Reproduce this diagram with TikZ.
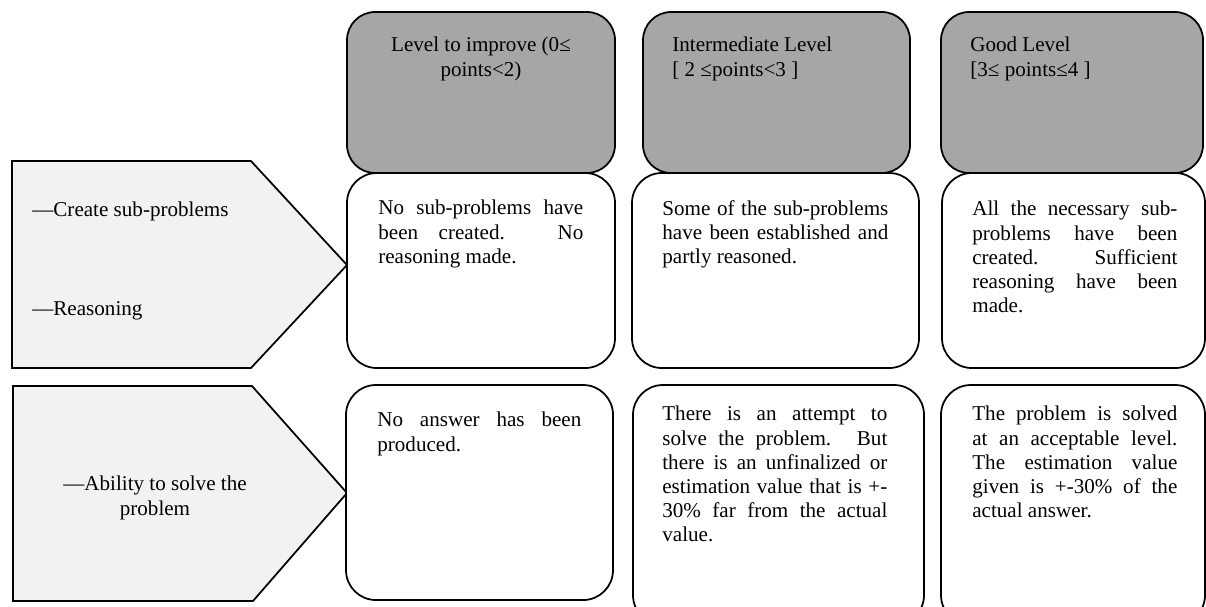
\documentclass[tikz,border=0pt]{standalone}
\usepackage{fontspec}
\setmainfont{Liberation Serif}
\definecolor{headgray}{HTML}{A6A6A6}
\definecolor{tabgray}{HTML}{F2F2F2}

\begin{document}
\begin{tikzpicture}[
  x=0.02cm, y=-0.02cm,
  head/.style={draw, line width=1pt, fill=headgray, rounded corners=16pt},
  cell/.style={draw, line width=1pt, fill=white, rounded corners=17pt},
  tab/.style={draw, line width=1pt, fill=tabgray},
  txt/.style={anchor=north west, inner sep=0pt, align=justify,
              font=\fontsize{12}{13.7}\selectfont},
  lbl/.style={inner sep=0pt, font=\fontsize{12}{13.7}\selectfont}
]
  \clip (0,0) rectangle (1206,606);

  % Left tabs
  \draw[tab] (12,161) -- (251,161) -- (347,265) -- (251,368) -- (12,368) -- cycle;
  \draw[tab] (13,386) -- (252,386) -- (347,493) -- (253,601) -- (13,601) -- cycle;
  \node[lbl, anchor=base west] (t1a) at (32,216) {—Create sub-problems};
  \node[lbl, anchor=base west] (t1b) at (32,315) {—Reasoning};
  \node[lbl, anchor=north, align=center] (t2) at (155,476)
    {—Ability to solve the\\problem};

  % Headers
  \foreach \l/\r in {347/615, 643/910, 941/1203} {
    \draw[head] (\l,12) rectangle (\r,173);
  }
  \node[lbl, anchor=north, align=center] (h1) at (481,37)
    {Level to improve (0≤\\points<2)};
  \node[lbl, anchor=north west, align=left] (h2) at (672,37)
    {Intermediate Level\\{[} 2 ≤points<3 ]};
  \node[lbl, anchor=north west, align=left] (h3) at (970,37)
    {Good Level\\{[}3≤ points≤4 ]};

  % First row
  \foreach \l/\r in {347/615, 632/919, 942/1205} {
    \draw[cell] (\l,173) rectangle (\r,368);
  }
  \node[txt, text width=205*0.02cm] (c11) at (378,200)
    {No sub-problems have\linebreak been created. No\linebreak reasoning made.};
  \node[txt, text width=226*0.02cm] (c12) at (662,200)
    {Some of the sub-problems\linebreak have been established and\linebreak partly reasoned.};
  \node[txt, text width=205*0.02cm] (c13) at (972,201)
    {All the necessary sub-\linebreak problems have been\linebreak created. Sufficient\linebreak reasoning have been\linebreak made.};

  % Second row
  \draw[cell] (346,385) rectangle (613,600);
  \foreach \l/\r in {633/924, 941/1205} {
    \draw[cell] (\l,385) rectangle (\r,625);
  }
  \node[txt, text width=204*0.02cm] (c21) at (377,412)
    {No answer has been\linebreak produced.};
  \node[txt, text width=225*0.02cm] (c22) at (662,406)
    {There is an attempt to\linebreak solve the problem. But\linebreak there is an unfinalized or\linebreak estimation value that is +-\linebreak 30\% far from the actual\linebreak value.};
  \node[txt, text width=205*0.02cm] (c23) at (972,406)
    {The problem is solved\linebreak at an acceptable level.\linebreak The estimation value\linebreak given is +-30\% of the\linebreak actual answer.};
\end{tikzpicture}
\end{document}
